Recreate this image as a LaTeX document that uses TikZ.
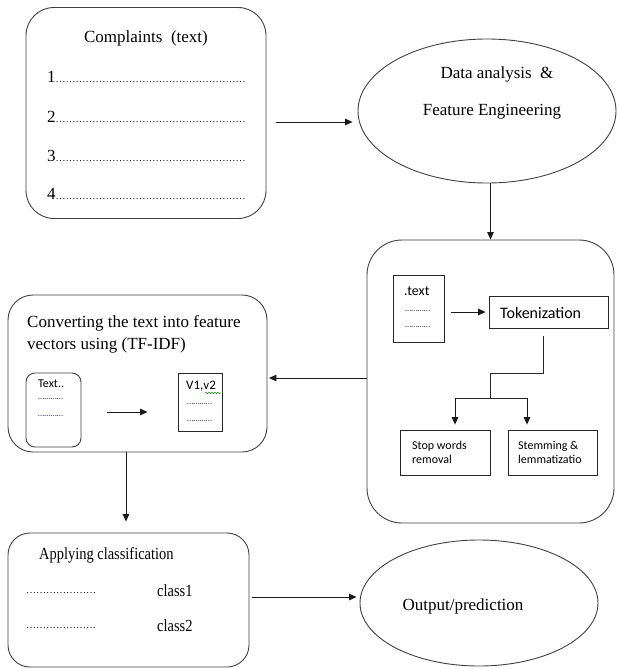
\documentclass[tikz,border=0pt]{standalone}
\usepackage{fontspec}
\setmainfont{Liberation Serif}
\newfontfamily\timesf{Liberation Serif}
\newfontfamily\calib{Carlito}
\newfontfamily\condserif[FakeStretch=0.85]{Liberation Serif}
\usetikzlibrary{arrows.meta,shapes.geometric,decorations.pathmorphing}
\definecolor{dotcol}{RGB}{55,55,105}
\ExplSyntaxOn
\NewDocumentCommand\repdots{m}{\prg_replicate:nn{#1}{…}}
\ExplSyntaxOff
\tikzset{
  outline/.style={draw=black!75, line width=0.9pt},
  rbox/.style={outline, rounded corners=#1, inner sep=0pt},
  rbox/.default=25pt,
  sbox/.style={draw=black!85, line width=0.8pt, inner sep=0pt},
  oval/.style={outline, ellipse, inner sep=0pt},
  arr/.style={draw=black!90, line width=0.9pt, -{Triangle[length=7.5pt,width=6.5pt]}},
  ln/.style={draw=black!85, line width=0.9pt},
  serif/.style={font=\timesf\fontsize{17}{22}\selectfont, inner sep=0pt},
  cserif/.style={font=\condserif\fontsize{17}{22}\selectfont, inner sep=0pt},
  sans/.style={font=\calib\fontsize{#1}{#1}\selectfont, inner sep=0pt},
  sans/.default=12,
  dotsfont/.style={font=\timesf\fontsize{10}{12}\selectfont, inner sep=0pt},
  sdots/.style={font=\calib\fontsize{9}{10}\selectfont, text=dotcol, inner sep=0pt},
}
\begin{document}
\begin{tikzpicture}[x=1pt,y=-1pt]
\useasboundingbox (0,0) rectangle (616,669);

% ---------- Complaints box
\node[rbox=28pt, minimum width=240pt, minimum height=211pt] (complaints) at (146,113) {};
\node[serif] (ctitle) at (146,38) {Complaints\ \ (text)};
\node[serif, anchor=west] (c1) at (47,77) {1{\fontsize{10}{12}\selectfont\repdots{19}}};
\node[serif, anchor=west] (c2) at (47,117) {2{\fontsize{10}{12}\selectfont\repdots{19}}};
\node[serif, anchor=west] (c3) at (47,156) {3{\fontsize{10}{12}\selectfont\repdots{19}}};
\node[serif, anchor=west] (c4) at (47,194) {4{\fontsize{10}{12}\selectfont\repdots{19}}};

% ---------- Data analysis ellipse
\node[oval, minimum width=258pt, minimum height=144pt] (da) at (487,111) {};
\node[serif] (da1) at (497,74) {Data analysis \ \&};
\node[serif] (da2) at (492,112) {Feature Engineering};

% ---------- Preprocessing big box
\node[rbox=35pt, minimum width=247pt, minimum height=283pt] (prep) at (490.5,381.5) {};
\node[sbox, minimum width=51pt, minimum height=67pt] (txt) at (418.5,308.5) {};
\node[sans=14, anchor=west] (txtt) at (404,291) {.text};
\node[sdots, anchor=west] (txtd1) at (405,311) {\repdots{4}};
\node[sdots, anchor=west] (txtd2) at (405,327) {\repdots{4}};
\node[sbox, minimum width=119pt, minimum height=32pt] (tok) at (548.5,312) {};
\node[sans=16, anchor=west] (tokt) at (500,313) {Tokenization};
\node[sbox, minimum width=90pt, minimum height=45pt] (stop) at (445,452.5) {};
\node[sans=12, anchor=west, align=left] (stopt) at (412,452) {Stop words\\[2pt]removal};
\node[sbox, minimum width=89pt, minimum height=45pt] (stem) at (552.5,452.5) {};
\node[sans=12, anchor=west, align=left] (stemt) at (518,452) {Stemming \&\\[2pt]lemmatizatio};

% ---------- Converting box
\node[rbox=25pt, minimum width=259pt, minimum height=157pt] (conv) at (137.5,373.5) {};
\node[serif, anchor=west, align=left] (convt) at (27,334) {Converting the text into feature\\vectors using (TF-IDF)};
\node[rbox=9pt, minimum width=55pt, minimum height=74pt] (tb) at (53.5,410) {};
\node[sans=12, anchor=west] (tbt) at (38,384) {Text..};
\node[sdots, anchor=west] (tbd1) at (38,399) {\repdots{4}};
\node[sdots, anchor=west] (tbd2) at (38,416) {\repdots{4}};
\node[sbox, minimum width=44pt, minimum height=58pt] (vb) at (200,402) {};
\node[sans=13, anchor=west] (vbt) at (186,386) {V1,v2};
\node[sdots, anchor=west] (vbd1) at (187,404) {\repdots{4}};
\node[sdots, anchor=west] (vbd2) at (187,421) {\repdots{4}};
\draw[green!55!black, line width=0.5pt, decorate, decoration={snake, amplitude=0.7pt, segment length=3pt}] (205,393) -- (221,393);

% ---------- Classification box
\node[rbox=22pt, minimum width=241pt, minimum height=134pt] (cls) at (128.5,600) {};
\node[cserif, anchor=west] (clst) at (39,555) {Applying classification};
\node[dotsfont, anchor=west] (cld1) at (26,593) {\repdots{7}};
\node[cserif, anchor=west] (cl1) at (157,591) {class1};
\node[dotsfont, anchor=west] (cld2) at (26,628) {\repdots{7}};
\node[cserif, anchor=west] (cl2) at (157,626) {class2};

% ---------- Output ellipse
\node[oval, minimum width=238pt, minimum height=126pt] (out) at (479,603) {};
\node[serif] (outt) at (463,606) {Output/prediction};

% ---------- helper coordinates for connector levels
\coordinate (r1) at (0,122);
\coordinate (r3) at (0,378);
\coordinate (r4) at (0,412);
\coordinate (r5) at (0,597);
\coordinate (cx) at (126,0);
\coordinate (j1) at (490,373);
\coordinate (j2) at (490,398);
\coordinate (b1) at (455,398);
\coordinate (b2) at (527,398);
\coordinate (tk) at (543,336);

% ---------- connectors
\draw[arr, shorten <=10pt, shorten >=5pt] (complaints.east |- r1) -- (da.west |- r1);
\draw[arr] (da.south -| prep.north) -- (prep.north);
\draw[ln] (tk) |- (j1) -- (j2);
\draw[ln] (b1) -- (b2);
\draw[arr, shorten >=5pt] (b1) -- (b1 |- stop.north);
\draw[arr, shorten >=5pt] (b2) -- (b2 |- stem.north);
\draw[arr, shorten <=7pt, shorten >=3pt] (txt.east |- tok.west) -- (tok.west);
\draw[arr, shorten >=1.5pt] (prep.west |- r3) -- (conv.east |- r3);
\draw[arr, shorten <=26pt, shorten >=30pt] (tb.east |- r4) -- (vb.west |- r4);
\draw[arr, shorten >=11pt] (conv.south -| cx) -- (cls.north -| cx);
\draw[arr, shorten <=3pt, shorten >=3pt] (cls.east |- r5) -- (out.west |- r5);
\end{tikzpicture}
\end{document}
